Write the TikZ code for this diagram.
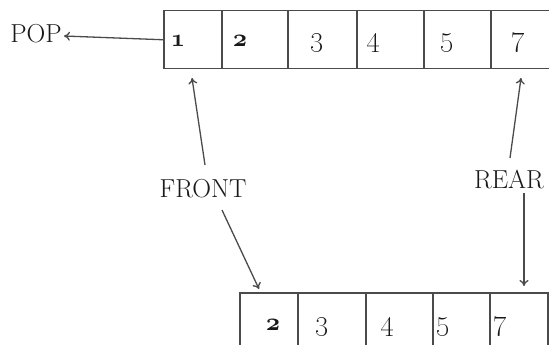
\documentclass[tikz,border=0pt]{standalone}
\usetikzlibrary{arrows.meta}
\newcommand{\bosn}[1]{{\usefont{OML}{cmm}{b}{it}#1}}
\begin{document}
\begin{tikzpicture}[x=1pt,y=-1pt,
  cellbox/.style={draw=linegray,line width=1.5pt,fill=white,inner sep=0pt,anchor=north west},
  num/.style={inner sep=0pt,anchor=base,font=\fontsize{28}{30}\selectfont,text=black!90},
  snum/.style={inner sep=0pt,anchor=base,font=\fontsize{28}{30}\selectfont,text=black!90},
  lbl/.style={inner sep=0pt,font=\fontsize{26}{30}\selectfont,text=black!90},
  arr/.style={draw=linegray,line width=1.3pt,-{To[length=6pt,width=9pt]}}]
\definecolor{linegray}{RGB}{75,75,75}
\useasboundingbox (0,0) rectangle (549,345);
\clip (0,0) rectangle (549,345);
\fill[white] (0,0) rectangle (549,345);
% top row
\node[cellbox,minimum width=58pt,minimum height=58pt] (c1) at (163,10) {};
\node[cellbox,minimum width=66pt,minimum height=58pt] (c2) at (221,10) {};
\node[cellbox,minimum width=69pt,minimum height=58pt] (c3) at (287,10) {};
\node[cellbox,minimum width=67pt,minimum height=58pt] (c4) at (356,10) {};
\node[cellbox,minimum width=67pt,minimum height=58pt] (c5) at (423,10) {};
\node[cellbox,minimum width=62pt,minimum height=58pt] (c6) at (490,10) {};
\node[snum] (n1) at (178,47) {\bosn{1}};
\node[snum] (n2) at (240,47) {\bosn{2}};
\node[num] (n3) at (317,47) {\oldstylenums{3}};
\node[num] (n4) at (373,47) {\oldstylenums{4}};
\node[num] (n5) at (447,47) {\oldstylenums{5}};
\node[num] (n7) at (518,47) {\oldstylenums{7}};
% bottom row
\node[cellbox,minimum width=58pt,minimum height=70pt] (b1) at (239,292) {};
\node[cellbox,minimum width=68pt,minimum height=70pt] (b2) at (297,292) {};
\node[cellbox,minimum width=67pt,minimum height=70pt] (b3) at (365,292) {};
\node[cellbox,minimum width=57pt,minimum height=70pt] (b4) at (432,292) {};
\node[cellbox,minimum width=58pt,minimum height=70pt] (b5) at (489,292) {};
\node[snum] (m2) at (273,330) {\bosn{2}};
\node[num] (m3) at (322,330) {\oldstylenums{3}};
\node[num] (m4) at (387,330) {\oldstylenums{4}};
\node[num] (m5) at (443,330) {\oldstylenums{5}};
\node[num] (m7) at (500,330) {\oldstylenums{7}};
% labels
\node[lbl] (pop) at (36,34) {POP};
\node[lbl] (front) at (203,189) {FRONT};
\node[lbl] (rear) at (509,180) {REAR};
% connectors
\coordinate (popend) at (64,36);
\coordinate (ftop) at (192,78);
\coordinate (fbot) at (259,289);
\coordinate (rtop) at (521,78);
\coordinate (rbot) at (524,286);
\coordinate (fs1) at (205,165);
\coordinate (fs2) at (222,210);
\coordinate (rs1) at (510,158);
\coordinate (rs2) at (524,193);
\draw[arr] (c1.west) -- (popend);
\draw[arr] (fs1) -- (ftop);
\draw[arr] (fs2) -- (fbot);
\draw[arr] (rs1) -- (rtop);
\draw[arr] (rs2) -- (rbot);
\end{tikzpicture}
\end{document}
